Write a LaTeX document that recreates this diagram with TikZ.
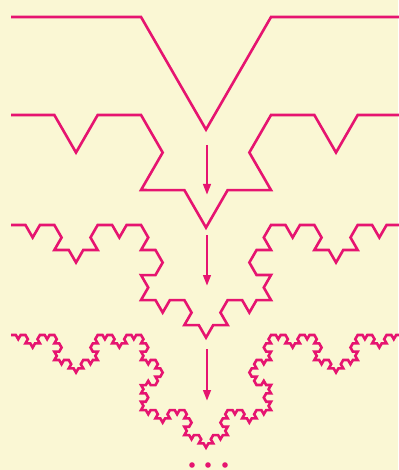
\documentclass[tikz,border=0pt]{standalone}
\usetikzlibrary{decorations.fractals,arrows.meta}

\definecolor{kochpink}{RGB}{230,20,112}
\definecolor{paper}{RGB}{250,247,212}

\tikzset{
  curve/.style={draw=kochpink, line width=2.6pt, line join=miter, decoration=Koch snowflake},
  flow/.style={draw=kochpink, line width=2.6pt, -{Triangle[length=11pt,width=7.5pt]}},
}

\begin{document}
\begin{tikzpicture}[x=1pt,y=1pt]
    % Page and background
    \fill[paper] (0,0) rectangle (398,-470);
    \useasboundingbox (0,0) rectangle (398,-470);

    % Base lines of the four stages (drawn right to left so the bumps point down)
    \coordinate (r1) at (401,-17);  \coordinate (l1) at (11,-17);
    \coordinate (r2) at (401,-115); \coordinate (l2) at (11,-115);
    \coordinate (r3) at (401,-225); \coordinate (l3) at (11,-225);
    \coordinate (r4) at (401,-335); \coordinate (l4) at (11,-335);

    % The four stages of the curve
    \draw[curve] decorate{(r1) -- (l1)};
    \draw[curve] decorate{decorate{(r2) -- (l2)}};
    \draw[curve] decorate{decorate{decorate{(r3) -- (l3)}}};
    \draw[curve] decorate{decorate{decorate{decorate{(r4) -- (l4)}}}};

    % Arrows between the stages
    \foreach \k/\ytop/\ybot in {1/145/195, 2/235/286, 3/349/401}{
        \coordinate (top\k) at (207,-\ytop);
        \coordinate (tip\k) at (207,-\ybot);
        \draw[flow] (top\k) -- (tip\k);
    }

    % Dots at the bottom
    \foreach \xx in {192,208,225}
        \fill[kochpink] (\xx,-465) circle (2.8);
\end{tikzpicture}
\end{document}
